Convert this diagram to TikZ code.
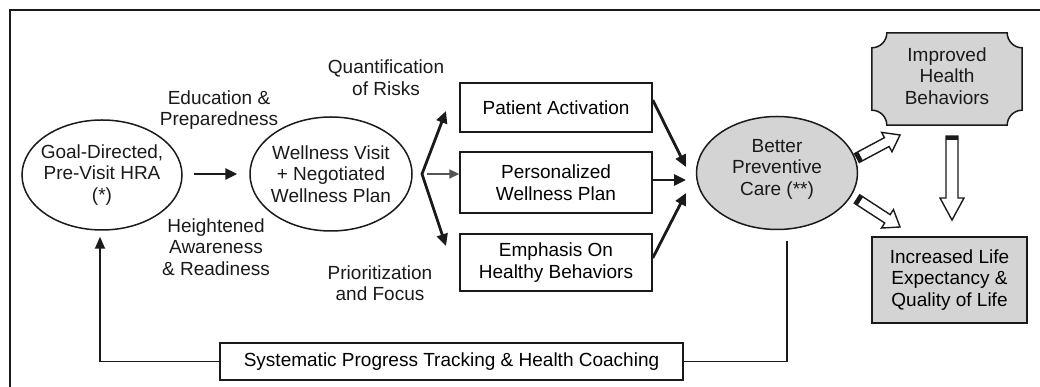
\documentclass[tikz,border=0pt]{standalone}
\usepackage{fontspec}
\setmainfont{Liberation Sans}
\usetikzlibrary{arrows.meta,calc,backgrounds,shapes.geometric}
\definecolor{ink}{HTML}{1A1A1A}
\definecolor{fillgray}{HTML}{D4D4D4}
\definecolor{midgray}{HTML}{555555}
% #1 tail, #2 tip, #3 half shaft width, #4 half head width, #5 head length
\newcommand\blockarrow[5]{%
  \coordinate (ba-h) at ($(#2)!#5!(#1)$);
  \coordinate (ba-t) at ($(#1)!4pt!(#2)$);
  \draw[draw=ink, line width=1.4pt, line join=miter, fill=white]
    ($(#1)!#3!90:(#2)$) -- ($(ba-h)!#3!90:(#2)$) -- ($(ba-h)!#4!90:(#2)$) -- (#2)
    -- ($(ba-h)!#4!-90:(#2)$) -- ($(ba-h)!#3!-90:(#2)$) -- ($(#1)!#3!-90:(#2)$) -- cycle;
  \fill[ink] ($(#1)!#3!90:(#2)$) -- ($(ba-t)!#3!90:(#2)$) -- ($(ba-t)!#3!-90:(#2)$) -- ($(#1)!#3!-90:(#2)$) -- cycle;
}
\begin{document}
\begin{tikzpicture}[x=1pt,y=1pt,
  font=\fontsize{19}{21.5}\selectfont,
  oval/.style={ellipse, draw=ink, line width=1.5pt, inner sep=0pt},
  box/.style={rectangle, draw=ink, line width=1.5pt, inner sep=0pt, align=center},
  lbl/.style={align=center, inner sep=0pt, text=ink},
  conn/.style={draw=ink, line width=2.8pt, -{Triangle[length=12pt,width=11pt]}},
  loopline/.style={draw=ink, line width=1.8pt}]
\useasboundingbox (0,0) rectangle (1040,387);
% frame
\draw[ink, line width=1.5pt] (10,0) -- (10,377) -- (1040,377);

% ellipses
\node[oval, minimum width=160pt, minimum height=110pt] (e1) at (102,212) {};
\node[lbl] (e1t) at (e1) {Goal-Directed,\\Pre-Visit HRA\\(*)};
\node[oval, minimum width=162pt, minimum height=114pt] (e2) at (331,213) {};
\node[lbl] (e2t) at (e2) {Wellness Visit\\+ Negotiated\\Wellness Plan};
\node[oval, fill=fillgray, minimum width=161pt, minimum height=113pt] (bpc) at (777,214) {};
\node[lbl] (bpct) at ([yshift=4pt]bpc.center) {Better\\Preventive\\Care (**)};

% boxes
\node[box, minimum width=192pt, minimum height=49pt] (pa) at (556,279.5) {Patient Activation};
\node[box, minimum width=192pt, minimum height=61pt] (pw) at (556,204.5) {Personalized\\Wellness Plan};
\node[box, minimum width=192pt, minimum height=57pt] (eh) at (556,124.5) {Emphasis On\\Healthy Behaviors};
\node[box, minimum width=463pt, minimum height=37pt] (sys) at (451.5,25.5) {Systematic Progress Tracking \& Health Coaching};
\node[box, fill=fillgray, minimum width=155pt, minimum height=86pt] (ile) at (949.5,107) {Increased Life\\Expectancy \&\\Quality of Life};
\node[inner sep=0pt, minimum width=150pt, minimum height=92pt] (ihb) at (947,308) {};
\begin{scope}[on background layer]
\draw[draw=ink, line width=1.5pt, fill=fillgray]
  ([xshift=15pt]ihb.south west) -- ([xshift=-15pt]ihb.south east)
  arc[start angle=180, end angle=90, radius=15pt]
  -- ([yshift=-15pt]ihb.north east)
  arc[start angle=270, end angle=180, radius=15pt]
  -- ([xshift=15pt]ihb.north west)
  arc[start angle=0, end angle=-90, radius=15pt]
  -- ([yshift=15pt]ihb.south west)
  arc[start angle=90, end angle=0, radius=15pt] -- cycle;
\end{scope}
\node[lbl] (ihbt) at ([yshift=3pt]ihb.center) {Improved\\Health\\Behaviors};

% labels
\node[lbl] (l1) at (219,277) {Education \&\\Preparedness};
\node[lbl] (l2) at (216,140) {Heightened\\Awareness\\\& Readiness};
\node[lbl] (l3) at (386,309.5) {Quantification\\of Risks};
\node[lbl] (l4) at (380,104) {Prioritization\\and Focus};

% connectors
\draw[conn, shorten <=11pt, shorten >=12pt] (e1.east |- e2.west) -- (e2.west);
\coordinate (fan) at (422,213);
\coordinate (fanU) at (446,276);
\coordinate (fanD) at (446,141);
\coordinate (fanM) at (427,213);
\draw[draw=ink, line width=2.8pt, line join=miter,
  {Triangle[length=12pt,width=11pt]}-{Triangle[length=12pt,width=11pt]}] (fanU) -- (fan) -- (fanD);
\draw[draw=midgray, line width=2.2pt, -{Triangle[length=10pt,width=9pt]}] (fanM) -- (fanM -| pw.west);

\coordinate (in1) at (686,220);
\coordinate (in2) at (686,207);
\coordinate (in3) at (686,194);
\draw[conn] ([yshift=7.5pt]pa.east) -- (in1);
\draw[conn] ([yshift=2.5pt]pw.east) -- (in2);
\draw[conn] ([yshift=4.5pt]eh.east) -- (in3);

% feedback loop
\draw[loopline] ([xshift=10pt,yshift=-10.5pt]bpc.south) |- (sys.east);
\draw[loopline, -{Triangle[length=12pt,width=10pt]}] (sys.west) -| ([xshift=-2pt,yshift=-6pt]e1.south);

% hollow block arrows
\coordinate (h1a) at (857,229);
\coordinate (h1b) at (900,252);
\coordinate (h2a) at (857,188);
\coordinate (h2b) at (900,160);
\coordinate (h3a) at (952,251);
\coordinate (h3b) at (952,167);
\blockarrow{h1a}{h1b}{5pt}{11pt}{15pt}
\blockarrow{h2a}{h2b}{5pt}{11pt}{15pt}
\blockarrow{h3a}{h3b}{6pt}{12pt}{22pt}
\end{tikzpicture}
\end{document}
